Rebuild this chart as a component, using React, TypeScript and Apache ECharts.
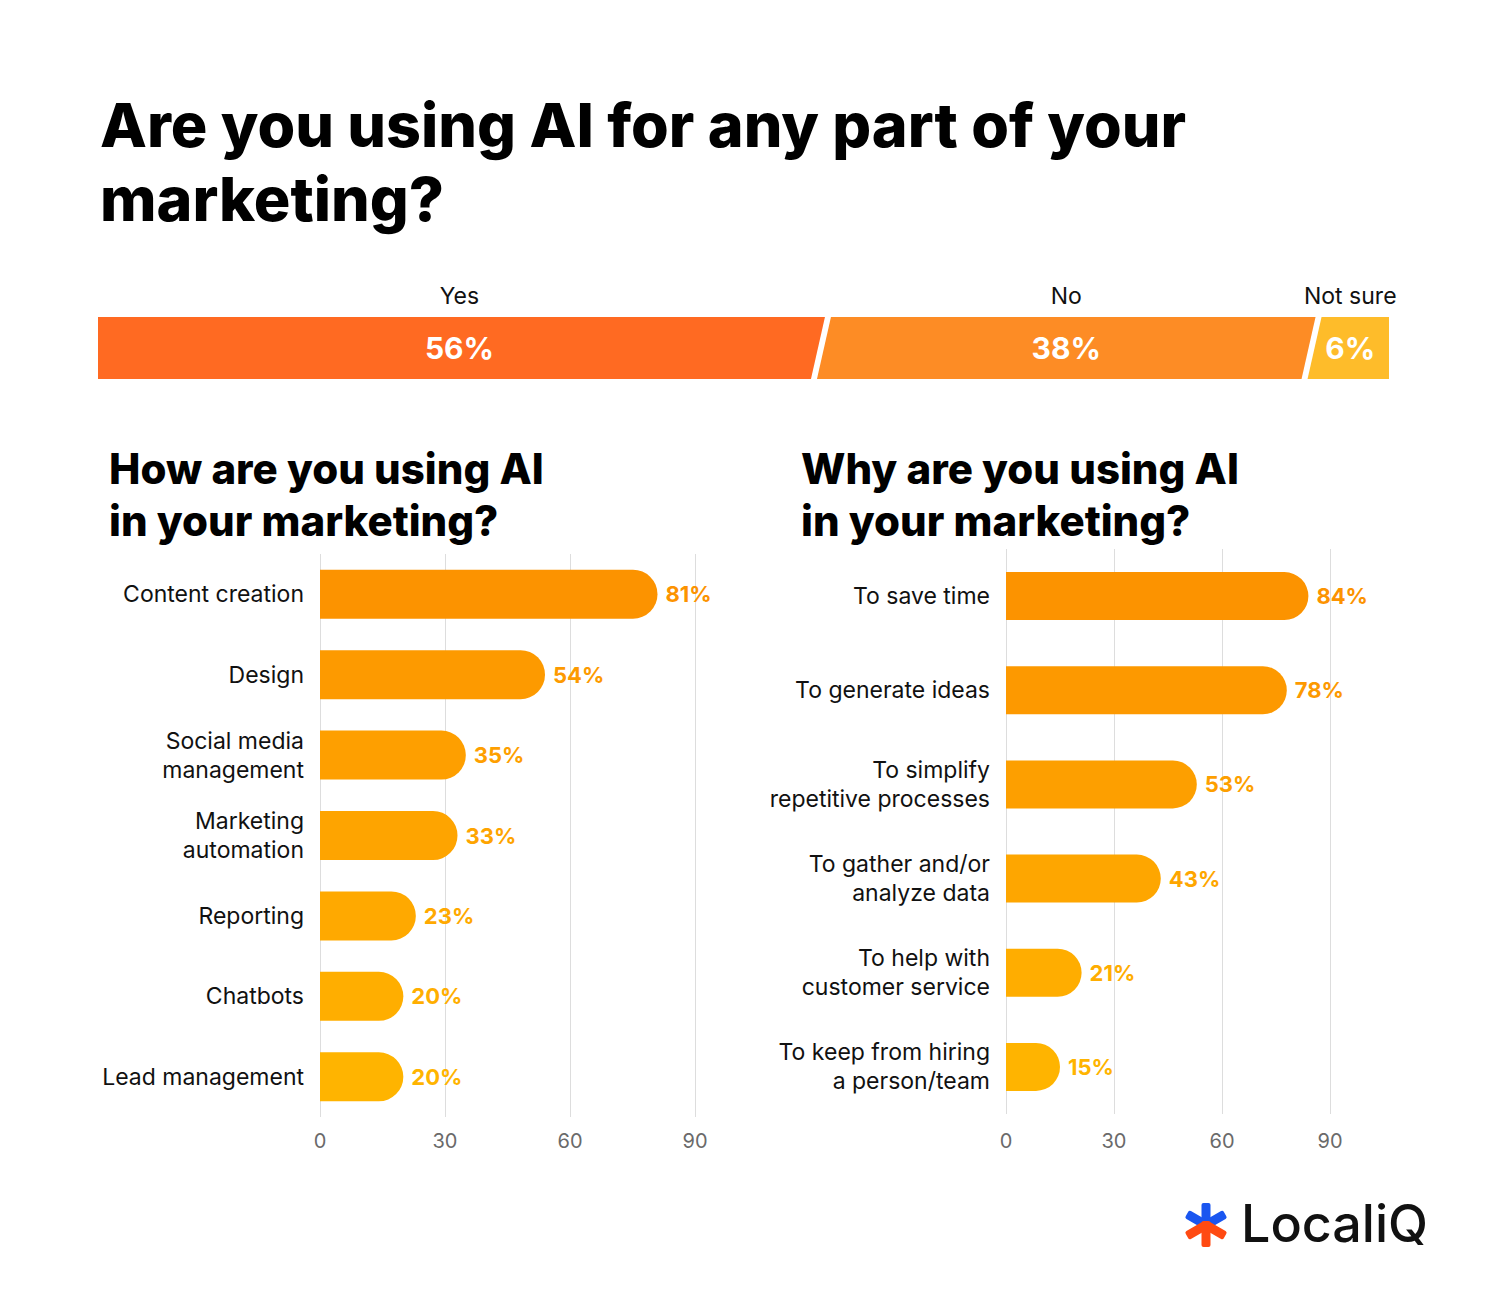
import React, { useEffect, useRef } from "react";
import * as echarts from "echarts";

const answerNames = ["Yes", "No", "Not sure"];
const answerValues = [56, 38, 6];
const answerColors = ["#FF6A22", "#FD8C25", "#FEBC2A"];

const howCategories = [
  "Content creation",
  "Design",
  "Social media\nmanagement",
  "Marketing\nautomation",
  "Reporting",
  "Chatbots",
  "Lead management",
];
const howValues = [81, 54, 35, 33, 23, 20, 20];
const howColors = ["#FC9300", "#FD9A00", "#FE9F00", "#FEA400", "#FFA900", "#FFAE00", "#FFB400"];

const whyCategories = [
  "To save time",
  "To generate ideas",
  "To simplify\nrepetitive processes",
  "To gather and/or\nanalyze data",
  "To help with\ncustomer service",
  "To keep from hiring\na person/team",
];
const whyValues = [84, 78, 53, 43, 21, 15];
const whyColors = ["#FC9300", "#FD9900", "#FD9F00", "#FEA600", "#FFAD00", "#FFB400"];

const FONT = "Inter";

export default function App() {
  const ref = useRef<HTMLDivElement>(null);
  useEffect(() => {
    document.body.style.margin = "0";
    const chart = echarts.init(ref.current!, null, { renderer: "svg" });

    const starts: number[] = [];
    let acc = 0;
    answerValues.forEach((v) => {
      starts.push(acc);
      acc += v;
    });
    const stackData = answerValues.map((v, i) => [starts[i], starts[i] + v, i]);

    const barSeries = (values: number[], colors: string[], idx: number, bw: number) => ({
      type: "bar",
      xAxisIndex: idx,
      yAxisIndex: idx,
      barWidth: bw,
      data: values.map((v, i) => ({
        value: v,
        itemStyle: { color: colors[i], borderRadius: [0, bw / 2, bw / 2, 0] },
        label: { color: colors[i] },
      })),
      label: {
        show: true,
        position: "right",
        distance: 8,
        formatter: "{c}%",
        fontFamily: FONT,
        fontWeight: 700,
        fontSize: 22,
        letterSpacing: 0.5,
      },
    });

    const valueX = (idx: number, margin: number) => ({
      type: "value",
      gridIndex: idx,
      min: 0,
      max: 90,
      interval: 30,
      axisLine: { show: false },
      axisTick: { show: false },
      splitLine: { show: true, lineStyle: { color: "#DDDDDD", width: 1 } },
      axisLabel: { color: "#6A6A6A", fontSize: 20, fontFamily: FONT, margin },
    });
    const catY = (idx: number, cats: string[]) => ({
      type: "category",
      gridIndex: idx,
      data: cats,
      inverse: true,
      axisLine: { show: false },
      axisTick: { show: false },
      axisLabel: {
        color: "#111111",
        fontSize: 23,
        fontFamily: FONT,
        lineHeight: 29,
        margin: 16,
        align: "right",
      },
    });

    chart.setOption({
      animation: false,
      backgroundColor: "#FFFFFF",
      grid: [
        { left: 98, top: 317, width: 1291, height: 62 },
        { left: 320, top: 554, width: 375, height: 563 },
        { left: 1006, top: 549, width: 324, height: 565 },
      ],
      xAxis: [
        { type: "value", gridIndex: 0, min: 0, max: 100, show: false },
        valueX(1, 14),
        valueX(2, 17),
      ],
      yAxis: [
        { type: "category", gridIndex: 0, data: ["all"], show: false },
        catY(1, howCategories),
        catY(2, whyCategories),
      ],
      series: [
        {
          type: "custom",
          xAxisIndex: 0,
          yAxisIndex: 0,
          data: stackData,
          renderItem: (params: any, api: any) => {
            const s = api.value(0);
            const e = api.value(1);
            const i = api.value(2);
            const p0 = api.coord([s, 0]);
            const p1 = api.coord([e, 0]);
            const h = api.size([0, 1])[1];
            const yc = p0[1];
            const yt = yc - h / 2;
            const yb = yc + h / 2;
            const sl = 7;
            const gap = 3;
            const last = i === answerValues.length - 1;
            const tl = i === 0 ? p0[0] : p0[0] + sl + gap;
            const bl = i === 0 ? p0[0] : p0[0] - sl + gap;
            const tr = last ? p1[0] : p1[0] + sl - gap;
            const br = last ? p1[0] : p1[0] - sl - gap;
            const cx = (p0[0] + p1[0]) / 2;
            return {
              type: "group",
              children: [
                {
                  type: "polygon",
                  shape: { points: [[tl, yt], [tr, yt], [br, yb], [bl, yb]] },
                  style: { fill: answerColors[i] },
                },
                {
                  type: "text",
                  x: cx,
                  y: yc,
                  style: {
                    text: answerValues[i] + "%",
                    fill: "#FFFFFF",
                    font: `700 30px ${FONT}`,
                    textAlign: "center",
                    textVerticalAlign: "middle",
                  },
                },
                {
                  type: "text",
                  x: cx,
                  y: yt - 21,
                  style: {
                    text: answerNames[i],
                    fill: "#111111",
                    font: `400 23px ${FONT}`,
                    textAlign: "center",
                    textVerticalAlign: "middle",
                  },
                },
              ],
            };
          },
        },
        barSeries(howValues, howColors, 1, 49),
        barSeries(whyValues, whyColors, 2, 48),
      ],
      graphic: [
        {
          type: "text",
          left: 100,
          top: 88,
          style: {
            text: "Are you using AI for any part of your\nmarketing?",
            font: `800 61px ${FONT}`,
            lineHeight: 74,
            fill: "#000000",
          },
        },
        {
          type: "text",
          left: 109,
          top: 442,
          style: {
            text: "How are you using AI\nin your marketing?",
            font: `800 42px ${FONT}`,
            lineHeight: 52,
            fill: "#000000",
          },
        },
        {
          type: "text",
          left: 801,
          top: 442,
          style: {
            text: "Why are you using AI\nin your marketing?",
            font: `800 42px ${FONT}`,
            lineHeight: 52,
            fill: "#000000",
          },
        },
        {
          type: "group",
          x: 1206,
          y: 1225,
          children: [
            { type: "rect", shape: { x: -4.5, y: -22, width: 9, height: 22, r: 2 }, style: { fill: "#1A56F0" } },
            { type: "rect", rotation: (60 * Math.PI) / 180, shape: { x: -4.5, y: -22, width: 9, height: 22, r: 2 }, style: { fill: "#1A56F0" } },
            { type: "rect", rotation: (-60 * Math.PI) / 180, shape: { x: -4.5, y: -22, width: 9, height: 22, r: 2 }, style: { fill: "#1A56F0" } },
            { type: "rect", rotation: (120 * Math.PI) / 180, shape: { x: -4.5, y: -22, width: 9, height: 22, r: 2 }, style: { fill: "#FF4A12" } },
            { type: "rect", rotation: (-120 * Math.PI) / 180, shape: { x: -4.5, y: -22, width: 9, height: 22, r: 2 }, style: { fill: "#FF4A12" } },
            { type: "rect", shape: { x: -4.5, y: -4, width: 9, height: 26, r: 2 }, style: { fill: "#FF4A12" } },
          ],
        },
        {
          type: "text",
          left: 1241,
          top: 1197,
          style: {
            text: "LocaliQ",
            font: `500 52px ${FONT}`,
            fill: "#111111",
          },
        },
      ],
    });
    return () => chart.dispose();
  }, []);
  return <div ref={ref} style={{ width: 1500, height: 1296 }} />;
}
